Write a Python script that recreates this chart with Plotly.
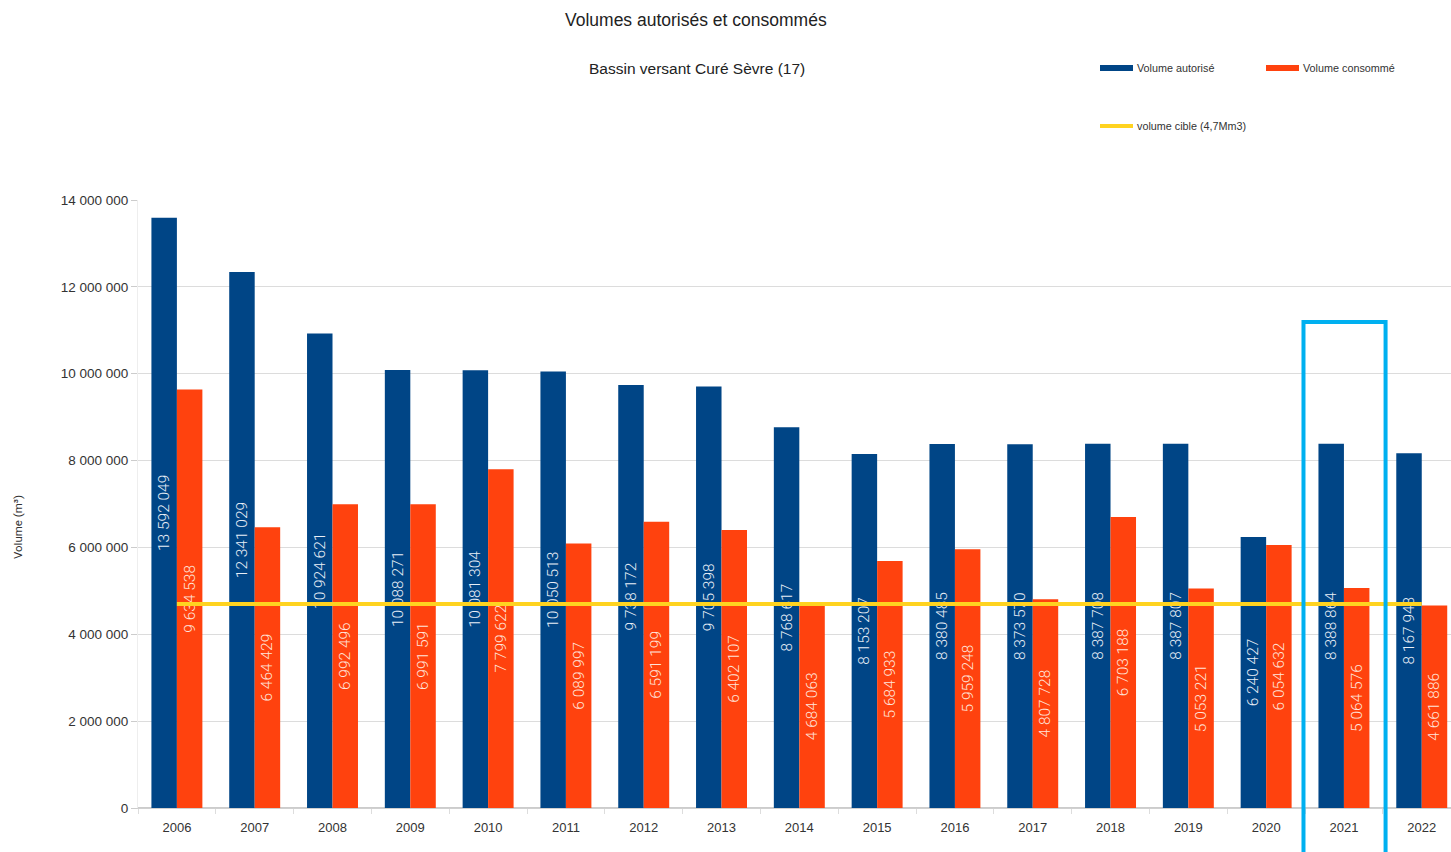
import plotly.graph_objects as go

# Yearly volumes (m³) for the Curé Sèvre catchment
years = ["2006", "2007", "2008", "2009", "2010", "2011", "2012", "2013", "2014",
         "2015", "2016", "2017", "2018", "2019", "2020", "2021", "2022"]
volume_autorise = [13592049, 12341029, 10924621, 10088271, 10081304, 10050513,
                   9738172, 9705398, 8768617, 8153207, 8380485, 8373570,
                   8387708, 8387807, 6240427, 8388864, 8167948]
volume_consomme = [9634538, 6464429, 6992496, 6991591, 7799622, 6089997,
                   6591199, 6402107, 4684063, 5684933, 5959248, 4807728,
                   6703188, 5053221, 6054632, 5064576, 4661886]
volume_cible = 4700000
highlight_year = "2021"
y_ticks = [0, 2000000, 4000000, 6000000, 8000000, 10000000, 12000000, 14000000]

BLUE = "#004586"
ORANGE = "#FF420E"
YELLOW = "#FFD320"
CYAN = "#00B0F0"

W, H = 1451, 852
ML, MR, MT, MB = 138, 0, 200, 44
X_RANGE = [-0.5, 16.376]
Y_RANGE = [0, 14000000]

label_font = "Roboto, Liberation Sans Narrow, sans-serif"
base_font = "Liberation Sans, Arial, sans-serif"


def px_x(p):
    return (p - ML) / (W - ML - MR)


def px_y(p):
    return (H - MB - p) / (H - MT - MB)


fig = go.Figure()

fig.add_trace(go.Bar(
    x=years, y=volume_autorise, name="Volume autorisé",
    marker=dict(color=BLUE, line=dict(width=0)),
    texttemplate="%{y:,.0f}", textposition="inside", insidetextanchor="middle",
    textangle=-90,
    textfont=dict(family=label_font, size=15.5, weight=300, color="#e8eef6"),
))
fig.add_trace(go.Bar(
    x=years, y=volume_consomme, name="Volume consommé",
    marker=dict(color=ORANGE, line=dict(width=0)),
    texttemplate="%{y:,.0f}", textposition="inside", insidetextanchor="middle",
    textangle=-90,
    textfont=dict(family=label_font, size=15.5, weight=300, color="#ffe4da"),
))
fig.add_trace(go.Scatter(
    x=years, y=[volume_cible] * len(years), name="volume cible (4,7Mm3)",
    mode="lines", line=dict(color=YELLOW, width=4),
))

# frame around the highlighted year
hi = years.index(highlight_year)
fig.add_shape(type="rect", xref="x", yref="paper",
              x0=hi - 0.52, x1=hi + 0.535, y0=-0.3, y1=px_y(322),
              line=dict(color=CYAN, width=4), layer="above")

# legend drawn by hand: swatch + label
legend_items = [
    ("Volume autorisé", BLUE, 1100, 68, 6),
    ("Volume consommé", ORANGE, 1266, 68, 6),
    ("volume cible (4,7Mm3)", YELLOW, 1100, 126, 4),
]
for text, color, x0, yc, th in legend_items:
    fig.add_shape(type="line", xref="paper", yref="paper",
                  x0=px_x(x0), x1=px_x(x0 + 33), y0=px_y(yc), y1=px_y(yc),
                  line=dict(color=color, width=th))
    fig.add_annotation(xref="paper", yref="paper", x=px_x(x0 + 35), y=px_y(yc),
                       text=text, showarrow=False, xanchor="left", yanchor="middle",
                       font=dict(family=base_font, size=10.8, color="#333333"))

fig.add_annotation(xref="paper", yref="paper", x=px_x(696), y=px_y(20),
                   text="Volumes autorisés et consommés", showarrow=False,
                   xanchor="center", yanchor="middle",
                   font=dict(family=base_font, size=17.5, color="#222222"))
fig.add_annotation(xref="paper", yref="paper", x=px_x(697), y=px_y(68),
                   text="Bassin versant Curé Sèvre (17)", showarrow=False,
                   xanchor="center", yanchor="middle",
                   font=dict(family=base_font, size=15.5, color="#222222"))
fig.add_annotation(xref="paper", yref="paper", x=px_x(18), y=px_y(527),
                   text="Volume (m³)", showarrow=False, textangle=-90,
                   xanchor="center", yanchor="middle",
                   font=dict(family=label_font, size=11.5, color="#333333"))

fig.update_layout(
    width=W, height=H,
    margin=dict(l=ML, r=MR, t=MT, b=MB, pad=0),
    paper_bgcolor="white", plot_bgcolor="white",
    barmode="group", bargap=0.345, bargroupgap=0,
    showlegend=False,
    separators=", ",
    font=dict(family=base_font, color="#333333"),
    xaxis=dict(type="category", range=X_RANGE, showgrid=False,
               showline=True, linecolor="#d0d0d0",
               ticks="outside", tickson="boundaries", ticklen=5,
               tickcolor="#dddddd", ticklabelstandoff=7,
               tickfont=dict(family=base_font, size=13, color="#333333")),
    yaxis=dict(range=Y_RANGE, tickvals=y_ticks, tickformat=",d",
               showgrid=True, gridcolor="#dcdcdc", gridwidth=1,
               showline=True, linecolor="#eeeeee",
               ticks="outside", ticklen=6, tickcolor="#cccccc",
               zeroline=True, zerolinecolor="#cccccc",
               tickfont=dict(family=base_font, size=13.5, color="#333333")),
)

fig.write_html("out.html")
